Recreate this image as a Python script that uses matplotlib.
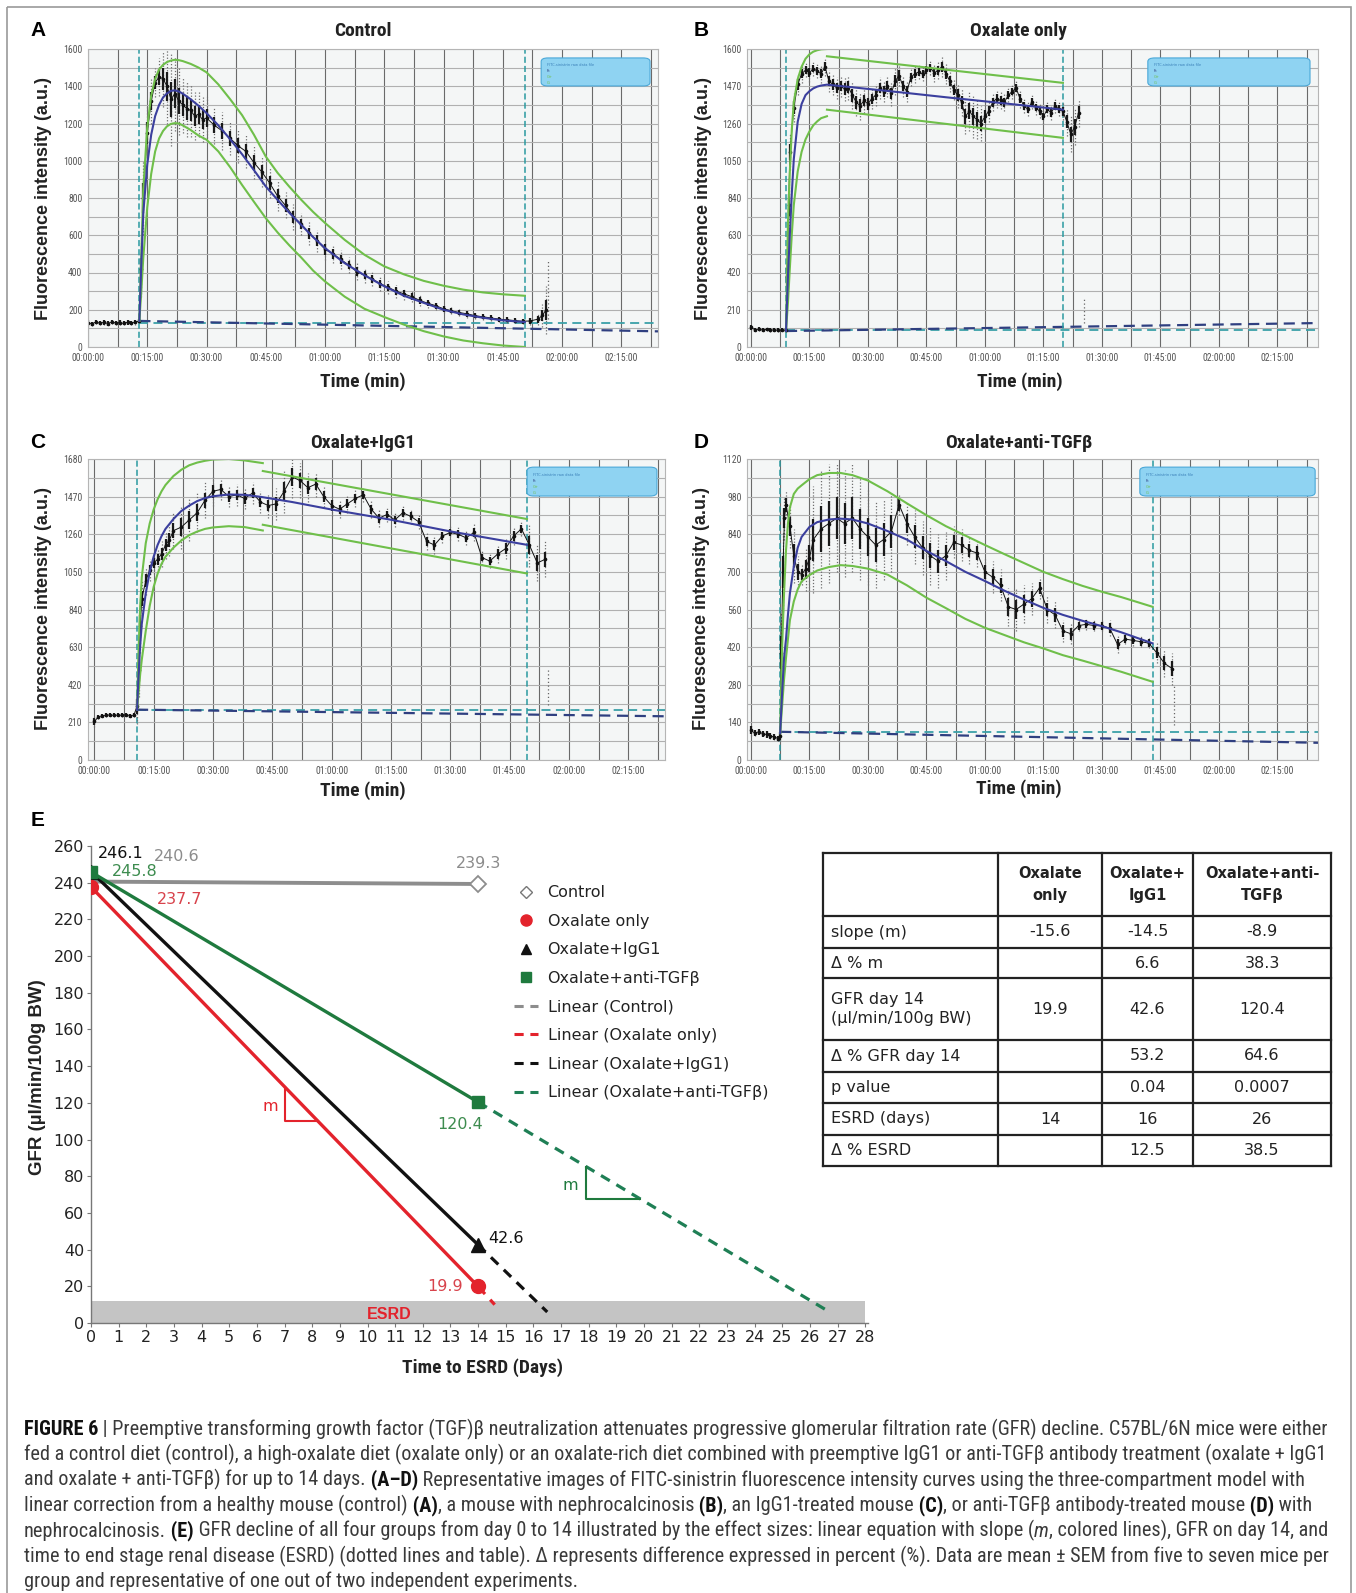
import numpy as np
import matplotlib
matplotlib.use("Agg")
import matplotlib.pyplot as plt
from matplotlib import font_manager
from matplotlib.lines import Line2D
from matplotlib.patches import FancyBboxPatch, Rectangle

W, H = 1356, 1593

# ---------------- panels A-D : fluorescence traces (minutes, a.u.) ----------------
tick_times = [0, 15, 30, 45, 60, 75, 90, 105, 120, 135]
tick_time_labels = ["00:00:00", "00:15:00", "00:30:00", "00:45:00", "01:00:00",
                    "01:15:00", "01:30:00", "01:45:00", "02:00:00", "02:15:00"]
trace_titles = ["Control", "Oxalate only", "Oxalate+IgG1", "Oxalate+anti-TGF\u03b2"]

# A - control
a_t = [0, 1, 2, 3, 4, 5, 6, 7, 8, 9, 10, 11, 12, 13,
       13.5, 14, 15, 16, 17, 18, 19, 20, 21, 22, 23, 24, 25, 26, 27, 28, 29, 30,
       32, 34, 36, 38, 40, 42, 44, 46, 48, 50, 52, 54, 56, 58, 60,
       62, 64, 66, 68, 70, 72, 74, 76, 78, 80, 82, 84, 86, 88, 90,
       92, 94, 96, 98, 100, 102, 104, 106, 108, 110, 112, 114, 115, 116]
a_v = [130, 125, 134, 128, 132, 126, 135, 129, 131, 127, 133, 130, 134, 140,
       420, 800, 1150, 1320, 1420, 1450, 1440, 1400, 1330, 1360, 1320, 1300, 1280, 1270, 1240, 1250, 1220, 1230,
       1190, 1160, 1120, 1080, 1050, 990, 940, 880, 810, 760, 700, 660, 610, 570, 525,
       500, 470, 440, 405, 385, 365, 340, 320, 300, 285, 270, 250, 235, 222, 205,
       195, 185, 178, 168, 162, 156, 150, 146, 142, 138, 140, 150, 170, 200]
a_s = [15, 10, 12, 10, 14, 10, 12, 10, 15, 10, 12, 10, 14, 12,
       150, 200, 150, 120, 80, 100, 150, 200, 250, 200, 180, 150, 150, 140, 130, 120, 120, 110,
       100, 100, 90, 90, 90, 90, 80, 80, 80, 70, 70, 60, 60, 60, 60,
       50, 50, 45, 45, 40, 40, 40, 35, 35, 30, 30, 30, 25, 25, 25,
       20, 20, 20, 15, 15, 15, 15, 15, 15, 15, 20, 30, 60, 130]
a_fit_t = [13, 13.5, 14, 15, 16, 17, 18, 19, 20, 21, 22, 23, 24, 26, 28, 30,
           33, 36, 39, 42, 45, 48, 51, 54, 57, 60, 65, 70, 75, 80, 85, 90, 95, 100, 105, 110.6]
a_fit_v = [140, 450, 720, 980, 1140, 1240, 1300, 1340, 1362, 1375, 1378, 1372, 1360, 1330, 1295, 1256,
           1190, 1115, 1035, 950, 862, 790, 720, 655, 590, 531, 450, 385, 326, 275, 237, 200, 175, 157, 143, 134]
a_hi_v = [140, 500, 850, 1180, 1350, 1440, 1490, 1515, 1530, 1538, 1542, 1540, 1535, 1520, 1500, 1475,
          1410, 1330, 1245, 1140, 1023, 935, 860, 790, 725, 666, 575, 495, 433, 390, 355, 329, 308, 293, 283, 275]
a_lo_v = [140, 300, 480, 750, 930, 1050, 1120, 1160, 1185, 1198, 1202, 1200, 1190, 1165, 1135, 1113,
          1050, 965, 870, 780, 692, 615, 545, 480, 410, 352, 270, 205, 161, 120, 85, 57, 35, 20, 8, 0]
a_marks = [13, 110.6]
a_teal = 129
a_navy = [140, 84]
a_spike = [116.5, 150, 460]

# B - oxalate only
b_t = [0, 1, 2, 3, 4, 5, 6, 7, 8, 9, 9.3, 9.7,
       10, 11, 12, 13, 14, 15, 16, 17, 18, 19,
       20, 21, 22, 23, 24, 25, 26, 27, 28, 29,
       30, 31, 32, 33, 34, 35, 36, 37, 38, 39,
       40, 41, 42, 43, 44, 45, 46, 47, 48, 49,
       50, 51, 52, 53, 54, 55, 56, 57, 58, 59,
       60, 61, 62, 63, 64, 65, 66, 67, 68, 69,
       70, 71, 72, 73, 74, 75, 76, 77, 78, 79,
       80, 81, 82, 83, 84]
b_v = [110, 98, 100, 96, 99, 95, 97, 94, 96, 95, 400, 800,
       1100, 1350, 1480, 1540, 1560, 1545, 1570, 1555, 1540, 1580,
       1500, 1480, 1460, 1470, 1455, 1465, 1420, 1380, 1360, 1390,
       1370, 1400, 1420, 1460, 1440, 1470, 1430, 1500, 1530, 1470,
       1440, 1520, 1540, 1550, 1540, 1560, 1575, 1545, 1560, 1580,
       1540, 1500, 1450, 1420, 1380, 1300, 1330, 1300, 1280, 1260,
       1300, 1330, 1380, 1400, 1390, 1380, 1420, 1440, 1460, 1400,
       1360, 1340, 1380, 1350, 1330, 1300, 1340, 1320, 1360, 1340,
       1330, 1270, 1200, 1240, 1320]
b_s = [15, 8, 8, 8, 8, 8, 8, 8, 8, 8, 100, 150,
       100, 80, 60, 50, 40, 50, 40, 40, 50, 50,
       60, 60, 60, 60, 70, 70, 80, 80, 80, 70,
       70, 60, 60, 60, 60, 60, 70, 80, 60, 60,
       60, 50, 50, 40, 40, 40, 40, 50, 50, 60,
       60, 60, 60, 70, 80, 100, 110, 120, 110, 100,
       80, 60, 50, 50, 50, 50, 40, 40, 40, 50,
       40, 40, 40, 40, 40, 40, 40, 40, 40, 40,
       50, 80, 100, 100, 80]
b_fit_t = [9, 9.5, 10, 10.5, 11, 12, 13, 14, 15, 16, 17, 18, 19.5, 30, 40, 50, 60, 70, 80]
b_fit_v = [90, 400, 643, 870, 1060, 1270, 1370, 1420, 1442, 1458, 1468, 1474, 1479, 1455, 1432, 1408, 1385, 1362, 1338]
b_rise_t = [9, 9.5, 10, 10.5, 11, 12, 13, 14, 15, 16, 17, 18, 19.5]
b_hi_rise = [90, 700, 1000, 1230, 1380, 1510, 1580, 1625, 1650, 1665, 1673, 1678, 1680]
b_lo_rise = [90, 250, 450, 640, 800, 990, 1100, 1170, 1215, 1250, 1272, 1290, 1301]
b_decay_t = [19.5, 80]
b_hi_decay = [1639, 1489]
b_lo_decay = [1338, 1179]
b_marks = [9, 80]
b_teal = 94
b_navy = [90, 135]
b_spike = [85.5, 135, 276]

# C - oxalate + IgG1
c_t = [0, 1, 2, 3, 4, 5, 6, 7, 8, 9, 10,
       10.8, 11.2, 11.6, 12, 13, 14, 15, 16, 17, 18, 19, 20,
       22, 24, 26, 28, 30, 32, 34, 36, 38, 40,
       42, 44, 46, 48, 50, 52, 54, 56, 58, 60,
       62, 64, 66, 68, 70, 72, 74, 76, 78, 80,
       82, 84, 86, 88, 90, 92, 94, 96, 98, 100,
       102, 104, 106, 108, 110, 112, 114]
c_v = [215, 240, 248, 250, 252, 249, 251, 250, 253, 248, 250,
       300, 500, 750, 900, 1000, 1060, 1100, 1120, 1150, 1200, 1230, 1280,
       1300, 1340, 1380, 1450, 1500, 1510, 1470, 1480, 1460, 1490,
       1440, 1420, 1430, 1500, 1580, 1560, 1520, 1540, 1470, 1420,
       1400, 1430, 1460, 1480, 1400, 1350, 1370, 1340, 1380, 1360,
       1330, 1220, 1200, 1250, 1270, 1260, 1240, 1270, 1130, 1110,
       1150, 1180, 1250, 1290, 1200, 1100, 1120]
c_s = [30, 10, 8, 8, 8, 8, 8, 8, 8, 8, 8,
       100, 150, 150, 100, 80, 60, 60, 60, 70, 80, 90, 100,
       120, 120, 110, 100, 80, 60, 60, 60, 60, 60,
       60, 70, 90, 120, 120, 100, 80, 70, 60, 60,
       50, 50, 50, 40, 50, 50, 40, 40, 40, 40,
       40, 50, 50, 40, 40, 40, 40, 50, 40, 40,
       50, 60, 50, 40, 120, 100, 100]
c_fit_t = [10.8, 11.2, 11.6, 12, 13, 14, 15, 16, 17, 18, 20, 22, 24, 26, 28, 30,
           34, 38, 42, 50, 60, 75, 90, 109.4]
c_fit_v = [280, 480, 640, 760, 930, 1050, 1135, 1200, 1250, 1290, 1345, 1390, 1420, 1445, 1462, 1472,
           1482, 1480, 1469, 1440, 1398, 1341, 1276, 1201]
c_rise_t = [10.8, 11.2, 11.6, 12, 13, 14, 15, 16, 17, 18, 20, 22, 24, 26, 28, 30, 34, 38, 42.6]
c_hi_rise = [280, 620, 860, 1020, 1210, 1320, 1398, 1455, 1500, 1535, 1585, 1620, 1645, 1660, 1670, 1677, 1680, 1672, 1657]
c_lo_rise = [280, 380, 480, 560, 720, 860, 966, 1040, 1095, 1135, 1185, 1225, 1255, 1275, 1290, 1298, 1305, 1300, 1281]
c_decay_t = [42.6, 109.4]
c_hi_decay = [1613, 1345]
c_lo_decay = [1313, 1041]
c_marks = [10.8, 109.4]
c_teal = 281
c_navy = [281, 244]
c_spike = [114.7, 309, 516]

# D - oxalate + anti-TGFb
d_t = [0, 1, 2, 3, 4, 5, 6, 7,
       7.5, 7.8, 8.2, 8.6, 9, 10, 11, 12, 13, 14, 15,
       16, 18, 20, 22, 24, 26, 28, 30, 32, 34,
       36, 38, 40, 42, 44, 46, 48, 50, 52, 54,
       56, 58, 60, 62, 64, 66, 68, 70, 72, 74,
       76, 78, 80, 82, 84, 86, 88, 90, 92, 94,
       96, 98, 100, 102, 104, 106, 108]
d_v = [110, 100, 105, 98, 95, 90, 85, 80,
       90, 400, 700, 900, 950, 870, 760, 700, 690, 710, 750,
       820, 860, 880, 900, 880, 900, 860, 830, 800, 820,
       850, 950, 880, 830, 790, 760, 740, 760, 810, 800,
       780, 770, 700, 680, 650, 570, 560, 580, 600, 640,
       560, 540, 480, 470, 500, 505, 500, 500, 490, 430,
       450, 445, 440, 435, 400, 360, 340]
d_s = [20, 10, 10, 10, 10, 10, 10, 8,
       20, 150, 150, 80, 50, 80, 100, 60, 40, 80, 120,
       200, 220, 220, 200, 200, 200, 190, 180, 160, 150,
       150, 40, 80, 100, 100, 110, 100, 90, 60, 60,
       50, 50, 50, 60, 60, 70, 80, 70, 60, 40,
       50, 50, 40, 40, 20, 20, 20, 20, 30, 30,
       20, 20, 20, 20, 40, 50, 60]
d_fit_t = [7.5, 8, 8.5, 9, 9.5, 10, 11, 12, 13, 15, 17, 20, 23, 26, 30,
           35, 40, 45, 50, 55, 60, 65, 70, 75, 80, 85, 90, 95, 103]
d_fit_v = [100, 250, 380, 450, 540, 620, 720, 790, 830, 867, 885, 895, 898, 895, 880,
           852, 820, 778, 740, 700, 666, 630, 597, 566, 540, 518, 498, 475, 434]
d_hi_v = [100, 420, 620, 780, 880, 940, 990, 1010, 1022, 1045, 1060, 1068, 1068, 1060, 1040,
          1000, 955, 911, 870, 835, 800, 766, 733, 700, 673, 648, 626, 606, 570]
d_lo_v = [100, 200, 300, 380, 450, 520, 590, 635, 665, 688, 705, 718, 725, 722, 712,
          690, 650, 604, 565, 525, 492, 465, 438, 415, 390, 370, 349, 328, 291]
d_marks = [7.5, 103]
d_teal = 105
d_navy = [105, 64]
d_spike = [108.5, 130, 280]

# ---------------- panel E : GFR decline ----------------
e_days = [0, 14]
e_control = [240.6, 239.3]
e_oxalate = [237.7, 19.9]
e_igg1 = [246.1, 42.6]
e_tgfb = [245.8, 120.4]
e_esrd_end_day = [14.6, 16.5, 26.6]     # oxalate, IgG1, anti-TGFb
e_esrd_end_val = [10, 6, 7]
esrd_level = 12

tbl_cols = ["Oxalate\nonly", "Oxalate+\nIgG1", "Oxalate+anti-\nTGF\u03b2"]
tbl_rows = ["slope (m)", "\u0394 % m", "GFR day 14\n(\u00b5l/min/100g BW)", "\u0394 % GFR day 14",
            "p value", "ESRD (days)", "\u0394 % ESRD"]
tbl_vals = [["-15.6", "-14.5", "-8.9"],
            ["", "6.6", "38.3"],
            ["19.9", "42.6", "120.4"],
            ["", "53.2", "64.6"],
            ["", "0.04", "0.0007"],
            ["14", "16", "26"],
            ["", "12.5", "38.5"]]

caption = [
    [("FIGURE 6", "bold"), (" | Preemptive transforming growth factor (TGF)\u03b2 neutralization attenuates progressive glomerular filtration rate (GFR) decline. C57BL/6N mice were either", "normal")],
    [("fed a control diet (control), a high-oxalate diet (oxalate only) or an oxalate-rich diet combined with preemptive IgG1 or anti-TGF\u03b2 antibody treatment (oxalate + IgG1", "normal")],
    [("and oxalate + anti-TGF\u03b2) for up to 14 days.", "normal"), (" (A\u2013D)", "bold"),
     (" Representative images of FITC-sinistrin fluorescence intensity curves using the three-compartment model with", "normal")],
    [("linear correction from a healthy mouse (control)", "normal"), (" (A)", "bold"),
     (", a mouse with nephrocalcinosis", "normal"), (" (B)", "bold"), (", an IgG1-treated mouse", "normal"),
     (" (C)", "bold"), (", or anti-TGF\u03b2 antibody-treated mouse", "normal"), (" (D)", "bold"), (" with", "normal")],
    [("nephrocalcinosis.", "normal"), (" (E)", "bold"),
     (" GFR decline of all four groups from day 0 to 14 illustrated by the effect sizes: linear equation with slope (", "normal"),
     ("m", "italic"), (", colored lines), GFR on day 14, and", "normal")],
    [("time to end stage renal disease (ESRD) (dotted lines and table). \u0394 represents difference expressed in percent (%). Data are mean \u00b1 SEM from five to seven mice per", "normal")],
    [("group and representative of one out of two independent experiments.", "normal")],
]

# ---------------- fonts ----------------
SANS = "Liberation Sans"
plt.rcParams["font.family"] = ["DejaVu Sans"]


def pick_narrow():
    entries = font_manager.fontManager.ttflist
    names = {f.name for f in entries}
    for n in ["Liberation Sans Narrow", "Roboto Condensed", "Arial Narrow", "Open Sans Condensed"]:
        if n in names:
            return n, "normal"
    for n in ["Noto Sans", "Roboto", "Open Sans", "DejaVu Sans"]:
        for f in entries:
            if f.name == n and str(f.stretch) in ("condensed", "semi-condensed", "extra-condensed"):
                return n, str(f.stretch)
    return SANS, "normal"


NARROW, NARROW_STRETCH = pick_narrow()
NKW = dict(family=NARROW, fontstretch=NARROW_STRETCH)

RED, BLACK, GREEN, GRAY = "#e3232c", "#111111", "#1f7a3e", "#8d8d8d"
GREEN_DASH = "#1f7f55"


def px_axes(fig, x0, y0, x1, y1):
    return fig.add_axes([x0 / W, 1 - y1 / H, (x1 - x0) / W, (y1 - y0) / H])


def draw_trace(ax, p):
    ax.set_facecolor("#f4f6f6")
    ax.set_xlim(*p["xlim"])
    ax.set_ylim(0, p["ymax"])
    ax.set_xticks(tick_times)
    ax.set_xticklabels(tick_time_labels)
    ax.set_xticks(np.arange(7.5, 145, 15), minor=True)
    ax.set_yticks(p["yticks"])
    ax.set_yticklabels(p["ylabels"])
    step = p["yticks"][1] - p["yticks"][0]
    ax.set_yticks(np.arange(step / 2, p["ymax"], step), minor=True)
    ax.grid(axis="x", which="both", color="#6a6a6a", lw=0.8)
    ax.grid(axis="y", which="both", color="#b0b0b0", lw=0.8)
    ax.set_axisbelow(True)
    ax.tick_params(which="both", length=0, labelsize=7, labelcolor="#555555", pad=4)
    for lab in ax.get_xticklabels() + ax.get_yticklabels():
        lab.set_family(NARROW)
        lab.set_fontstretch(NARROW_STRETCH)
    for sp in ax.spines.values():
        sp.set_color("#b5b5b5")
        sp.set_linewidth(0.8)

    t0 = p["marks"][0]
    xmax = p["xlim"][1]
    ax.plot([t0, xmax], [p["teal"], p["teal"]], color="#3aa0a8", lw=1.3, ls=(0, (5, 3)))
    ax.plot([t0, xmax], p["navy"], color="#2f3f80", lw=1.6, ls=(0, (5, 3)))
    for tm in p["marks"]:
        ax.axvline(tm, color="#2a9aa0", lw=1.1, ls=(0, (4, 2)))

    t = np.array(p["t"], float)
    v = np.array(p["v"], float)
    s = np.array(p["s"], float)
    # light scatter cloud, dense core, then the trace itself
    ax.vlines(t, v - s, v + s, colors="#6e6e6e", lw=0.9, linestyles=(0, (1, 1.5)))
    ax.vlines(t, v - 0.35 * s - 8, v + 0.35 * s + 8, colors="#1a1a1a", lw=1.6)
    ax.plot(t, v, color="#111111", lw=0.7, marker="o", ms=1.6)
    st, slo, shi = p["spike"]
    ax.vlines([st], [slo], [shi], colors="#666666", lw=0.9, linestyles=(0, (1, 2)))

    for gt, gv in p["green"]:
        ax.plot(gt, gv, color="#6fbf4a", lw=1.5)
    ax.plot(p["fit_t"], p["fit_v"], color="#3b3f9e", lw=1.5)

    x0, y0, x1, y1 = p["legend"]
    ax.add_patch(FancyBboxPatch((x0, y0), x1 - x0, y1 - y0, transform=ax.transAxes,
                                boxstyle="round,pad=0,rounding_size=0.012",
                                fc="#8fd3f2", ec="#4aa8d8", lw=0.8, zorder=5))
    for i, (txt, col) in enumerate([("FITC-sinistrin raw data file", "#3a7fb8"), ("fit", "#2f3f80"),
                                     ("G+", "#6fbf4a"), ("G-", "#6fbf4a")]):
        ax.text(x0 + 0.01, y1 - 0.018 - i * 0.02, txt, transform=ax.transAxes, fontsize=2.6,
                color=col, va="top", zorder=6)


fig = plt.figure(figsize=(W / 100, H / 100), dpi=100)

panels = [
    dict(box=(88, 49, 658, 347), xlim=(0, 144.3), ymax=1600,
         yticks=[0, 200, 400, 600, 800, 1000, 1200, 1400, 1600],
         ylabels=["0", "200", "400", "600", "800", "1000", "1200", "1400", "1600"],
         t=a_t, v=a_v, s=a_s, fit_t=a_fit_t, fit_v=a_fit_v,
         green=[(a_fit_t, a_hi_v), (a_fit_t, a_lo_v)],
         marks=a_marks, teal=a_teal, navy=a_navy, spike=a_spike,
         legend=(0.795, 0.876, 0.986, 0.97)),
    dict(box=(747, 49, 1318, 347), xlim=(-1, 145.4), ymax=1680,
         yticks=[0, 210, 420, 630, 840, 1050, 1260, 1470, 1680],
         ylabels=["0", "210", "420", "630", "840", "1050", "1260", "1470", "1600"],
         t=b_t, v=b_v, s=b_s, fit_t=b_fit_t, fit_v=b_fit_v,
         green=[(b_rise_t, b_hi_rise), (b_rise_t, b_lo_rise), (b_decay_t, b_hi_decay), (b_decay_t, b_lo_decay)],
         marks=b_marks, teal=b_teal, navy=b_navy, spike=b_spike,
         legend=(0.702, 0.876, 0.986, 0.97)),
    dict(box=(88, 459, 665, 760), xlim=(-1.6, 144.3), ymax=1680,
         yticks=[0, 210, 420, 630, 840, 1050, 1260, 1470, 1680],
         ylabels=["0", "210", "420", "630", "840", "1050", "1260", "1470", "1680"],
         t=c_t, v=c_v, s=c_s, fit_t=c_fit_t, fit_v=c_fit_v,
         green=[(c_rise_t, c_hi_rise), (c_rise_t, c_lo_rise), (c_decay_t, c_hi_decay), (c_decay_t, c_lo_decay)],
         marks=c_marks, teal=c_teal, navy=c_navy, spike=c_spike,
         legend=(0.761, 0.877, 0.986, 0.973)),
    dict(box=(747, 459, 1318, 760), xlim=(-1, 145.4), ymax=1120,
         yticks=[0, 140, 280, 420, 560, 700, 840, 980, 1120],
         ylabels=["0", "140", "280", "420", "560", "700", "840", "980", "1120"],
         t=d_t, v=d_v, s=d_s, fit_t=d_fit_t, fit_v=d_fit_v,
         green=[(d_fit_t, d_hi_v), (d_fit_t, d_lo_v)],
         marks=d_marks, teal=d_teal, navy=d_navy, spike=d_spike,
         legend=(0.688, 0.877, 0.995, 0.973)),
]
for p in panels:
    ax = px_axes(fig, *p["box"])
    draw_trace(ax, p)

# ---------------- panel E ----------------
ax = px_axes(fig, 91, 846, 868, 1323)
ax.set_facecolor("none")
ax.set_xlim(0, 28.1)
ax.set_ylim(0, 260)
ax.axhspan(0, esrd_level, xmin=0, xmax=28 / 28.1, color="#c4c4c4", lw=0, zorder=0)
ax.spines[["top", "right"]].set_visible(False)
for side in ["left", "bottom"]:
    ax.spines[side].set_color("#777777")
    ax.spines[side].set_linewidth(1.0)
ax.set_yticks(np.arange(0, 261, 20))
ax.set_xticks(np.arange(0, 29, 1))
ax.tick_params(length=3, width=0.8, color="#777777", labelsize=11.5, labelcolor="#222222", pad=2)

groups = [(e_oxalate, RED, 0), (e_igg1, BLACK, 1), (e_tgfb, GREEN, 2)]
ext_colors = [RED, BLACK, GREEN_DASH]
for vals, col, k in groups:
    ax.plot([e_days[1], e_esrd_end_day[k]], [vals[1], e_esrd_end_val[k]],
            color=ext_colors[k], lw=2.3, ls=(0, (3.2, 2.4)), zorder=3)
ax.plot(e_days, e_control, color=GRAY, lw=2.8, zorder=3)
ax.plot(e_days[1:], e_control[1:], ls="none", marker="D", ms=8, mfc="white", mec=GRAY, mew=1.3, zorder=6)
ax.plot(e_days, e_igg1, color=BLACK, lw=2.4, marker="^", ms=10, zorder=4)
ax.plot(e_days, e_oxalate, color=RED, lw=2.4, marker="o", ms=10, zorder=5)
ax.plot(e_days, e_tgfb, color=GREEN, lw=2.4, marker="s", ms=9, zorder=6)

# slope triangles
red_top = np.interp(7.0, e_days, e_oxalate)
red_bot = np.interp(8.2, e_days, e_oxalate)
ax.plot([7.0, 7.0, 8.2], [red_top, red_bot, red_bot], color=RED, lw=1.5, zorder=3)
ax.text(6.5, 118, "m", color=RED, fontsize=11.5, ha="center", va="center")
g_days = [e_days[1], e_esrd_end_day[2]]
g_vals = [e_tgfb[1], e_esrd_end_val[2]]
g_top = np.interp(17.9, g_days, g_vals)
g_bot = np.interp(19.85, g_days, g_vals)
ax.plot([17.9, 17.9, 19.85], [g_top, g_bot, g_bot], color=GREEN, lw=1.5, zorder=3)
ax.text(17.35, 75, "m", color=GREEN, fontsize=11.5, ha="center", va="center")

e_value_labels = [("246.1", 0.24, 256, "#111111", "left"), ("240.6", 2.29, 254.5, "#8c8c8c", "left"),
                  ("245.8", 0.75, 246, "#3d8c4f", "left"), ("237.7", 2.4, 231, "#d8434c", "left"),
                  ("239.3", 14.0, 250.7, "#8c8c8c", "center"), ("120.4", 13.35, 108, "#3d8c4f", "center"),
                  ("42.6", 14.37, 45.8, "#111111", "left"), ("19.9", 13.45, 20, "#d8434c", "right")]
for txt, x, y, col, ha in e_value_labels:
    ax.text(x, y, txt, color=col, fontsize=11.5, ha=ha, va="center", zorder=7)
ax.text(10.8, 4.6, "ESRD", color=RED, fontsize=11.5, fontweight="bold", family=SANS,
        ha="center", va="center")

handles = [
    Line2D([], [], ls="none", marker="D", ms=6.5, mfc="white", mec="#777777", mew=1.0),
    Line2D([], [], ls="none", marker="o", ms=8, color=RED),
    Line2D([], [], ls="none", marker="^", ms=7.5, color=BLACK),
    Line2D([], [], ls="none", marker="s", ms=7, color=GREEN),
    Line2D([], [], color=GRAY, lw=2.2, ls=(0, (3, 2.2))),
    Line2D([], [], color=RED, lw=2.2, ls=(0, (3, 2.2))),
    Line2D([], [], color=BLACK, lw=2.2, ls=(0, (3, 2.2))),
    Line2D([], [], color=GREEN_DASH, lw=2.2, ls=(0, (3, 2.2))),
]
labels = ["Control", "Oxalate only", "Oxalate+IgG1", "Oxalate+anti-TGF\u03b2",
          "Linear (Control)", "Linear (Oxalate only)", "Linear (Oxalate+IgG1)", "Linear (Oxalate+anti-TGF\u03b2)"]
leg = ax.legend(handles, labels, loc="upper left", bbox_to_anchor=(0.526, 0.948), frameon=False,
                prop={"family": "DejaVu Sans", "size": 11.5}, handlelength=1.5, handletextpad=0.6,
                labelspacing=0.85, borderpad=0.4)
for txt in leg.get_texts():
    txt.set_color("#222222")

# ---------------- overlay: labels, table, caption, frame ----------------
ov = fig.add_axes([0, 0, 1, 1])
ov.set_xlim(0, W)
ov.set_ylim(H, 0)
ov.axis("off")

for letter, (x, y) in zip("ABCDE", [(38, 31), (701, 31), (38, 443), (701, 443), (38, 821)]):
    ov.text(x, y, letter, fontsize=15, fontweight="bold", family=SANS, ha="center", va="center")
for title, (x, y) in zip(trace_titles, [(363, 31), (1018, 31), (363, 443), (1019, 443)]):
    ov.text(x, y, title, fontsize=14, fontweight="bold", ha="center", va="center", color="#222222", **NKW)
for x, y in [(363, 382), (1020, 382), (363, 791), (1019, 789)]:
    ov.text(x, y, "Time (min)", fontsize=14, fontweight="bold", ha="center", va="center",
            color="#222222", **NKW)
for x, y in [(44, 198), (703, 198), (44, 609), (701, 609)]:
    ov.text(x, y, "Fluorescence intensity (a.u.)", fontsize=13, fontweight="bold", family=SANS,
            rotation=90, ha="center", va="center", color="#222222")
ov.text(38, 1077, "GFR (\u00b5l/min/100g BW)", fontsize=13.5, fontweight="bold", family=SANS,
        rotation=90, ha="center", va="center", color="#222222")
ov.text(483, 1368, "Time to ESRD (Days)", fontsize=14, fontweight="bold",
        ha="center", va="center", color="#222222", **NKW)

# table
rows_y = [853, 916, 948, 978, 1040, 1072, 1103, 1135, 1166]
cols_x = [823, 998, 1102, 1193, 1331]
for y in rows_y:
    ov.plot([cols_x[0], cols_x[-1]], [y, y], color="#222222", lw=1.6, solid_capstyle="projecting")
for x in cols_x:
    ov.plot([x, x], [rows_y[0], rows_y[-1]], color="#222222", lw=1.6, solid_capstyle="projecting")
for j, head in enumerate(tbl_cols):
    ov.text((cols_x[j + 1] + cols_x[j + 2]) / 2, (rows_y[0] + rows_y[1]) / 2, head, fontsize=10.5,
            fontweight="bold", ha="center", va="center", linespacing=1.55, color="#222222")
for i, lab in enumerate(tbl_rows):
    yc = (rows_y[i + 1] + rows_y[i + 2]) / 2
    ov.text(831, yc, lab, fontsize=11.5, ha="left", va="center", linespacing=1.4, color="#222222")
    for j, val in enumerate(tbl_vals[i]):
        ov.text((cols_x[j + 1] + cols_x[j + 2]) / 2, yc, val, fontsize=11.5, ha="center", va="center",
                color="#222222")

# caption with mixed weights
renderer = fig.canvas.get_renderer()
CAP_X0, CAP_W = 24, 1298


def rich_line(x, y, segs, size):
    made = []
    for txt, style in segs:
        t = ov.text(x, y, txt, fontsize=size,
                    fontweight="bold" if style == "bold" else "normal",
                    fontstyle="italic" if style == "italic" else "normal",
                    color="#111111" if style == "bold" else "#3a3a3a", ha="left", va="baseline", **NKW)
        x += t.get_window_extent(renderer).width
        made.append(t)
    return made, x


probe, end = rich_line(CAP_X0, 1435, caption[0], 12)
cap_size = 12 * CAP_W / (end - CAP_X0)
for t in probe:
    t.remove()
for i, segs in enumerate(caption):
    rich_line(CAP_X0, 1435 + i * 25.4, segs, cap_size)

ov.add_patch(Rectangle((7, 7), W - 12, H + 50, fill=False, ec="#9a9a9a", lw=1.2))

fig.savefig("out.png", dpi=100)
